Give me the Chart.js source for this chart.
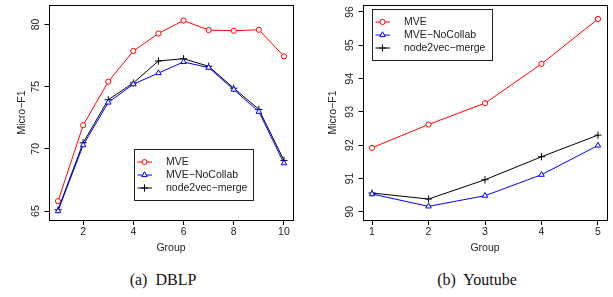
<!DOCTYPE html>
<html>
<head>
<meta charset="utf-8">
<script src="https://cdn.jsdelivr.net/npm/chart.js@4"></script>
<style>
  body { margin: 0; background: #fff; width: 613px; height: 297px; position: relative; overflow: hidden; }
  .box { position: absolute; top: 0; height: 258px; }
  .cap { position: absolute; top: 271px; font-family: "Liberation Serif", serif; font-size: 16px; color: #111; white-space: pre; transform: translateX(-50%); }
</style>
</head>
<body>
<div class="box" style="left:0;width:306px"><canvas id="canvasD"></canvas></div>
<div class="box" style="left:306px;width:307px"><canvas id="canvasY"></canvas></div>
<div class="cap" style="left:163px">(a)  DBLP</div>
<div class="cap" style="left:477px">(b)  Youtube</div>
<script>
'use strict';

// DBLP
const groupsD = [1, 2, 3, 4, 5, 6, 7, 8, 9, 10];
const mveD = [65.8, 71.9, 75.4, 77.87, 79.28, 80.32, 79.55, 79.5, 79.58, 77.44];
const noCollabD = [65.0, 70.3, 73.73, 75.2, 76.1, 76.99, 76.53, 74.77, 72.99, 68.85];
const node2vecD = [65.1, 70.49, 73.95, 75.3, 77.07, 77.25, 76.64, 74.88, 73.18, 69.07];
const xTicksD = [2, 4, 6, 8, 10];
const yTicksD = [65, 70, 75, 80];

// Youtube
const groupsY = [1, 2, 3, 4, 5];
const mveY = [91.92, 92.62, 93.26, 94.44, 95.79];
const noCollabY = [90.53, 90.16, 90.48, 91.11, 91.99];
const node2vecY = [90.56, 90.38, 90.96, 91.65, 92.30];
const xTicksY = [1, 2, 3, 4, 5];
const yTicksY = [90, 91, 92, 93, 94, 95, 96];

const seriesNames = ['MVE', 'MVE\u2212NoCollab', 'node2vec\u2212merge'];
const seriesColors = ['#ff0000', '#0000ff', '#000000'];
const seriesShapes = ['circle', 'triangle', 'cross'];
const seriesRadius = [2.6, 3.2, 3.6];

const FONT = '"Liberation Sans", Arial, sans-serif';
const FSIZE = 10.5;

function toPoints(xs, ys){
    return xs.map((x, i) => ({x: x, y: ys[i]}));
}

function makeDatasets(xs, lists){
    return lists.map((ys, i) => ({
        label: seriesNames[i],
        data: toPoints(xs, ys),
        borderColor: seriesColors[i],
        borderWidth: 1,
        pointStyle: seriesShapes[i],
        pointRadius: seriesRadius[i],
        pointBorderColor: seriesColors[i],
        pointBackgroundColor: '#ffffff',
        pointBorderWidth: 1,
        fill: false,
        tension: 0
    }));
}

// R style frame, rotated y labels and the legend box
const rFrame = {
    id: 'rFrame',
    afterDraw(chart, args, opts){
        const ctx = chart.ctx;
        const a = chart.chartArea;
        const y = chart.scales.y;
        ctx.save();
        ctx.strokeStyle = '#000';
        ctx.lineWidth = 1;
        ctx.strokeRect(a.left + 0.5, a.top + 0.5, a.right - a.left, a.bottom - a.top);

        ctx.fillStyle = '#222';
        ctx.font = FSIZE + 'px ' + FONT;
        ctx.textAlign = 'center';
        ctx.textBaseline = 'middle';
        y.ticks.forEach(t => {
            const py = y.getPixelForValue(t.value);
            ctx.save();
            ctx.translate(opts.labelX, py);
            ctx.rotate(-Math.PI / 2);
            ctx.fillText(String(t.value), 0, 0);
            ctx.restore();
        });

        const lg = opts.legend;
        ctx.strokeStyle = '#222';
        ctx.strokeRect(lg.x + 0.5, lg.y + 0.5, lg.w, lg.h);
        seriesNames.forEach((name, i) => {
            const ly = lg.rows[i];
            ctx.strokeStyle = seriesColors[i];
            ctx.fillStyle = '#ffffff';
            ctx.lineWidth = 1;
            ctx.beginPath();
            ctx.moveTo(lg.x + 3.5, ly + 0.5);
            ctx.lineTo(lg.x + 18, ly + 0.5);
            ctx.stroke();
            Chart.helpers.drawPoint(ctx, {pointStyle: seriesShapes[i], radius: seriesRadius[i], borderWidth: 1, rotation: 0}, lg.x + 10.5, ly + 0.5);
            ctx.fillStyle = '#222';
            ctx.textAlign = 'left';
            ctx.fillText(name, lg.x + 32, ly + 0.5);
        });
        ctx.restore();
    }
};

function makeConfig(xs, lists, xr, yr, xTicks, yTicks, axisW, padRight, yTitlePad, frameOpts){
    return {
        type: 'line',
        data: { datasets: makeDatasets(xs, lists) },
        options: {
            responsive: false,
            animation: false,
            layout: { padding: { top: 3, right: padRight, left: 0, bottom: 0 } },
            plugins: {
                legend: { display: false },
                tooltip: { enabled: false },
                rFrame: frameOpts
            },
            scales: {
                x: {
                    type: 'linear',
                    min: xr[0],
                    max: xr[1],
                    afterBuildTicks: s => { s.ticks = xTicks.map(v => ({value: v})); },
                    afterFit: s => { s.height = 38; },
                    grid: { display: true, drawOnChartArea: false, tickLength: 5, color: '#000', lineWidth: 1 },
                    border: { display: false },
                    ticks: { padding: 0.5, maxRotation: 0, autoSkip: false, color: '#222', font: { family: FONT, size: FSIZE } },
                    title: { display: true, text: 'Group', color: '#222', padding: { top: 0, bottom: 4 }, font: { family: FONT, size: FSIZE } }
                },
                y: {
                    type: 'linear',
                    min: yr[0],
                    max: yr[1],
                    afterBuildTicks: s => { s.ticks = yTicks.map(v => ({value: v})); },
                    afterFit: s => { s.width = axisW; },
                    grid: { display: true, drawOnChartArea: false, tickLength: 4.5, color: '#000', lineWidth: 1 },
                    border: { display: false },
                    ticks: { display: false },
                    title: { display: true, text: 'Micro\u2212F1', color: '#222', padding: { top: yTitlePad, bottom: 0 }, font: { family: FONT, size: FSIZE } }
                }
            }
        },
        plugins: [rFrame]
    };
}

const cD = document.querySelector('#canvasD');
cD.width = 306; cD.height = 258;
const chartD = new Chart(cD.getContext('2d'), makeConfig(
    groupsD, [mveD, noCollabD, node2vecD],
    [0.64, 10.36], [64.28, 81.57], xTicksD, yTicksD, 49, 13, 15.5,
    { labelX: 36, legend: { x: 134, y: 149, w: 119, h: 51, rows: [161.5, 174.5, 187.5] } }
));

const cY = document.querySelector('#canvasY');
cY.width = 307; cY.height = 258;
const chartY = new Chart(cY.getContext('2d'), makeConfig(
    groupsY, [mveY, noCollabY, node2vecY],
    [0.84, 5.16], [89.75, 96.21], xTicksY, yTicksY, 57, 6, 20.5,
    { labelX: 44.5, legend: { x: 66, y: 9, w: 120, h: 51, rows: [21.5, 34.5, 47.5] } }
));
</script>
</body>
</html>
